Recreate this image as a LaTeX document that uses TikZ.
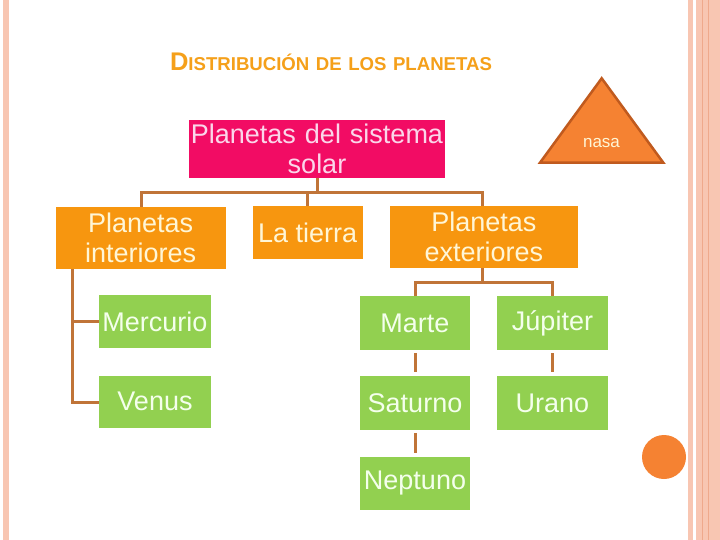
\documentclass[tikz,border=0pt]{standalone}
\usepackage{fontspec}
\setmainfont{Liberation Sans}
\usetikzlibrary{shapes.geometric}
\definecolor{pinkbox}{HTML}{F20C64}
\definecolor{pinktext}{HTML}{FBD6EA}
\definecolor{orangebox}{HTML}{F7960F}
\definecolor{orangetext}{HTML}{FFF6D6}
\definecolor{greenbox}{HTML}{92D050}
\definecolor{greentext}{HTML}{F4FFEC}
\definecolor{conn}{HTML}{C07438}
\definecolor{tri}{HTML}{F58232}
\definecolor{tristroke}{HTML}{C05A1E}
\definecolor{stripe}{HTML}{F8C6B2}
\definecolor{stripedark}{HTML}{EFA98C}
\definecolor{titlecol}{HTML}{F5A01A}
\tikzset{
  box/.style={inner sep=0pt, outer sep=0pt, align=center, font=\fontsize{27}{30}\selectfont},
  pinkb/.style={box, fill=pinkbox, text=pinktext},
  orangeb/.style={box, fill=orangebox, text=orangetext},
  greenb/.style={box, fill=greenbox, text=greentext},
  link/.style={draw=conn, line width=3pt},
}
\begin{document}
\begin{tikzpicture}[x=1pt,y=-1pt]
\useasboundingbox (0,0) rectangle (720,540);
\fill[white] (0,0) rectangle (720,540);
% stripes
\fill[stripe] (3,0) rectangle (9,540);
\fill[stripe] (688,0) rectangle (693,540);
\fill[stripe] (696,0) rectangle (720,540);
\fill[stripedark] (701.5,0) rectangle (703,540);
\fill[stripedark] (707.5,0) rectangle (708.5,540);
% circle
\fill[tri] (664,457) circle (22);
% title
\node[text=titlecol, font=\bfseries, anchor=center] (title) at (331,62)
  {\resizebox{322pt}{!}{{\fontsize{24}{24}\selectfont D}{\fontsize{17.5}{18}\selectfont ISTRIBUCIÓN\hspace{0.35em}DE\hspace{0.35em}LOS\hspace{0.35em}PLANETAS}}};
% triangle
\coordinate (tA) at (601.7,78.3);
\coordinate (tB) at (540,162.7);
\coordinate (tC) at (663.3,162.7);
\draw[fill=tri, draw=tristroke, line width=2.5pt, line join=miter] (tA) -- (tB) -- (tC) -- cycle;
\node[text=orangetext, font=\fontsize{17}{18}\selectfont] (nasa) at (601.5,143) {nasa};
% boxes
\path[pinkb] (189,120) rectangle (445,178);
\node[box, text=pinktext, text width=256pt] (top) at (317,149) {Planetas del sistema\\solar};
\path[orangeb] (56,207) rectangle (225.5,269);
\node[box, text=orangetext] (int) at (140.7,238) {Planetas\\interiores};
\path[orangeb] (252.7,206) rectangle (362.7,259.3);
\node[box, text=orangetext] (tierra) at (307.7,232.6) {La tierra};
\path[orangeb] (390,206) rectangle (577.7,268.3);
\node[box, text=orangetext] (ext) at (483.8,237.2) {Planetas\\exteriores};
% green
\path[greenb] (99.3,295) rectangle (210.7,348);
\node[box, text=greentext] (merc) at (155,321.5) {Mercurio};
\path[greenb] (99.3,375.7) rectangle (210.7,427.5);
\node[box, text=greentext] (venus) at (155,401.6) {Venus};
\path[greenb] (360,296) rectangle (470,350);
\node[box, text=greentext] (marte) at (415,323) {Marte};
\path[greenb] (496.7,296) rectangle (608.3,350);
\node[box, text=greentext] (jup) at (552.5,323) {Júpiter};
\path[greenb] (360,376) rectangle (470,430);
\node[box, text=greentext] (sat) at (415,403) {Saturno};
\path[greenb] (496.7,376) rectangle (608.3,430);
\node[box, text=greentext] (urano) at (552.5,403) {Urano};
\path[greenb] (360,456.7) rectangle (470,510);
\node[box, text=greentext] (nep) at (415,483.3) {Neptuno};
% connectors top level
\coordinate (topb) at (317,178);
\coordinate (hub) at (317,192.5);
\draw[link] (topb) -- (hub);
\draw[link] (141.7,207) -- (141.7,192.5) -- (482.7,192.5) -- (482.7,206);
\draw[link] (307.7,192.5) -- (307.7,206);
% interiores branch
\draw[link] (72.3,269) -- (72.3,402) -- (99.3,402);
\draw[link] (72.3,321.7) -- (99.3,321.7);
% exteriores branch
\draw[link] (482.7,268.3) -- (482.7,282);
\draw[link] (415,296) -- (415,282) -- (552,282) -- (552,296);
\draw[link] (415,353) -- (415,372);
\draw[link] (415,433) -- (415,453);
\draw[link] (552,353) -- (552,372);
\end{tikzpicture}
\end{document}
